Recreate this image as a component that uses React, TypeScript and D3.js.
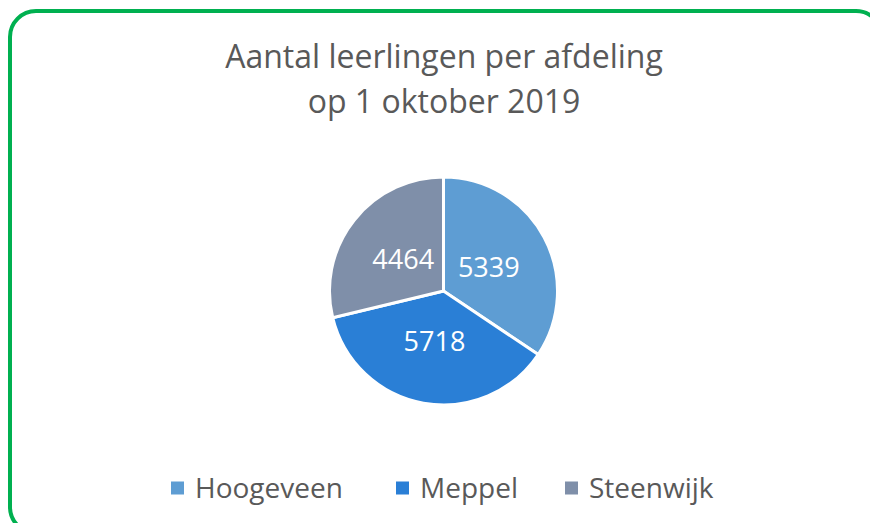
import React from "react";
import * as d3 from "d3";

const categories = ["Hoogeveen", "Meppel", "Steenwijk"];
const values = [5339, 5718, 4464];
const colors = ["#5e9dd3", "#2a7fd6", "#7f8fa9"];
const titleLines = ["Aantal leerlingen per afdeling", "op 1 oktober 2019"];

const W = 870;
const H = 523;
const FONT = "'Open Sans', 'Noto Sans', sans-serif";

export default function App() {
  const cx = 443.5;
  const cy = 291;
  const r = 114;
  const pie = d3
    .pie<number>()
    .sort(null)
    .value((d) => d)
    .startAngle(0)
    .endAngle(2 * Math.PI);
  const arcs = pie(values);
  const arcGen = d3.arc<d3.PieArcDatum<number>>().innerRadius(0).outerRadius(r);
  const labelArc = d3.arc<d3.PieArcDatum<number>>().innerRadius(0).outerRadius(r * 0.9);

  const legendX = [171, 396, 565];
  const legendY = 488;

  return (
    <svg
      width={W}
      height={H}
      style={{ position: "absolute", left: 0, top: 0, background: "#fff" }}
    >
      <rect
        x={10}
        y={11}
        width={872}
        height={522}
        rx={26}
        ry={26}
        fill="#ffffff"
        stroke="#00b050"
        strokeWidth={4}
      />
      {titleLines.map((t, i) => (
        <text
          key={i}
          x={444}
          y={68 + i * 45}
          textAnchor="middle"
          fontFamily={FONT}
          fontSize={32}
          fill="#595959"
        >
          {t}
        </text>
      ))}
      <g transform={`translate(${cx},${cy})`}>
        {arcs.map((a, i) => (
          <path
            key={i}
            d={arcGen(a) || ""}
            fill={colors[i]}
            stroke="#ffffff"
            strokeWidth={3}
            strokeLinejoin="miter"
          />
        ))}
        {arcs.map((a, i) => {
          const [lx, ly] = labelArc.centroid(a);
          return (
            <text
              key={"l" + i}
              x={lx}
              y={ly}
              dy="0.36em"
              textAnchor="middle"
              fontFamily={FONT}
              fontSize={27}
              fill="#ffffff"
            >
              {values[i]}
            </text>
          );
        })}
      </g>
      {categories.map((c, i) => (
        <g key={c}>
          <rect x={legendX[i]} y={legendY - 6.5} width={13} height={13} fill={colors[i]} />
          <text
            x={legendX[i] + 24}
            y={legendY}
            dy="0.36em"
            fontFamily={FONT}
            fontSize={28}
            fill="#595959"
          >
            {c}
          </text>
        </g>
      ))}
    </svg>
  );
}
